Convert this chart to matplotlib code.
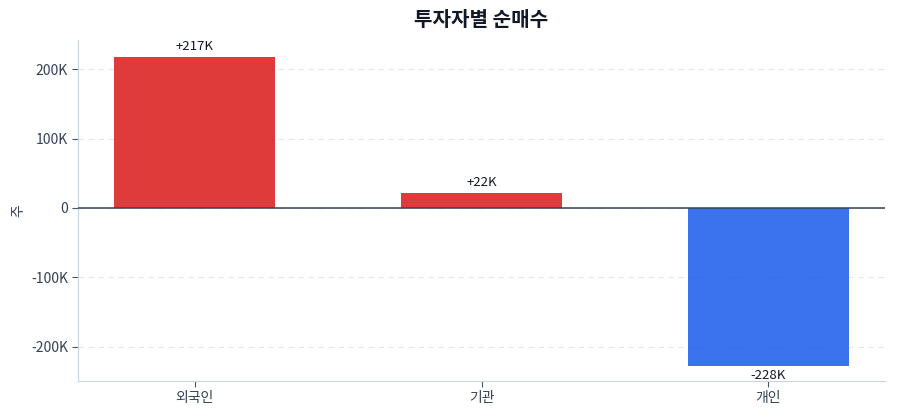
import numpy as np
import matplotlib
matplotlib.use("Agg")
import matplotlib.pyplot as plt
from matplotlib import ticker

plt.rcParams["font.family"] = ["Noto Sans CJK KR", "DejaVu Sans"]

# data
investors = ["외국인", "기관", "개인"]
net_buy = [217000, 22000, -228000]
title = "투자자별 순매수"
y_label = "주"

RED = "#dc2626"
BLUE = "#2563eb"
TEXT = "#334155"


def k_fmt(v, pos=None):
    if v == 0:
        return "0"
    return f"{v / 1000:.0f}K"


fig, ax = plt.subplots(figsize=(9, 4.2), dpi=100)
fig.subplots_adjust(left=0.087, right=0.983, top=0.905, bottom=0.093)

x = np.arange(len(investors))
colors = [RED if v >= 0 else BLUE for v in net_buy]
bars = ax.bar(x, net_buy, width=0.56, color=colors, alpha=0.9,
              edgecolor="none", zorder=3)

## value labels
for b, v in zip(bars, net_buy):
    lbl = f"+{v / 1000:.0f}K" if v >= 0 else f"{v / 1000:.0f}K"
    if v >= 0:
        ax.annotate(lbl, (b.get_x() + b.get_width() / 2, v), xytext=(0, 3),
                    textcoords="offset points", ha="center", va="bottom",
                    fontsize=9.5, color="#111827")
    else:
        ax.annotate(lbl, (b.get_x() + b.get_width() / 2, v), xytext=(0, -2),
                    textcoords="offset points", ha="center", va="top",
                    fontsize=9.5, color="#111827")

## axes, grid
ax.axhline(0, color=TEXT, linewidth=1.1, zorder=4)
ax.set_xlim(-0.405, 2.405)
ax.set_ylim(-249000, 242000)
ax.yaxis.set_major_locator(ticker.MultipleLocator(100000))
ax.yaxis.set_major_formatter(ticker.FuncFormatter(k_fmt))
ax.grid(axis="y", linestyle=(0, (5, 4)), color="#e2e8f0", linewidth=0.8, zorder=0)
ax.set_axisbelow(True)

for s in ("top", "right"):
    ax.spines[s].set_visible(False)
for s in ("left", "bottom"):
    ax.spines[s].set_color("#cbd5e1")

ax.set_xticks(x)
ax.set_xticklabels(investors)
ax.tick_params(axis="both", colors=TEXT, labelsize=10, length=4)
ax.tick_params(axis="both", color="#475569")

ax.set_title(title, fontsize=14.5, fontweight="bold", color="#111827", pad=10)
ax.set_ylabel(y_label, fontsize=10, color=TEXT, labelpad=4)

fig.savefig("out.png", dpi=100)
